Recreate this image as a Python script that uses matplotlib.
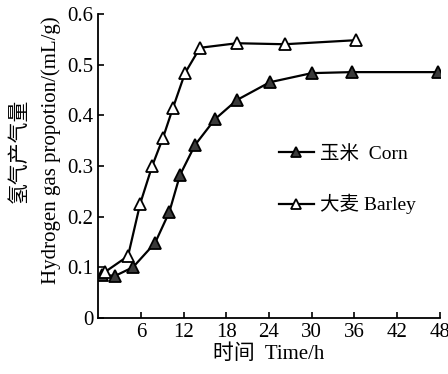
import matplotlib.pyplot as plt

plt.rcParams['font.family'] = ['Liberation Serif', 'Noto Sans CJK SC']

# dados
tempo_milho = [0.5, 2.4, 4.9, 8.0, 10.0, 11.5, 13.6, 16.4, 19.5, 24.1, 30.0, 35.6, 47.7]
h2_milho = [0.085, 0.083, 0.100, 0.148, 0.209, 0.282, 0.341, 0.392, 0.430, 0.465, 0.483, 0.485, 0.485]
tempo_cevada = [0.9, 4.2, 5.9, 7.6, 9.1, 10.5, 12.2, 14.3, 19.5, 26.2, 36.2]
h2_cevada = [0.090, 0.122, 0.225, 0.300, 0.355, 0.414, 0.483, 0.533, 0.542, 0.540, 0.548]

xticks = [6, 12, 18, 24, 30, 36, 42, 48]
yticks = [0, 0.1, 0.2, 0.3, 0.4, 0.5, 0.6]
ytick_labels = ['0', '0.1', '0.2', '0.3', '0.4', '0.5', '0.6']

fig = plt.figure(figsize=(4.48, 3.74), dpi=100)
ax = fig.add_axes([0.219, 0.150, 0.763, 0.813])

ax.plot(tempo_milho, h2_milho, '-^', color='black', lw=1.6, ms=8.5,
        mfc='#3a3a3a', mec='black', mew=1.3, label='玉米  Corn')
ax.plot(tempo_cevada, h2_cevada, '-^', color='black', lw=1.6, ms=8.5,
        mfc='white', mec='black', mew=1.3, label='大麦 Barley')

ax.set_xlim(0, 48)
ax.set_ylim(0, 0.6)
ax.set_xticks(xticks)
ax.set_yticks(yticks)
ax.set_yticklabels(ytick_labels)
ax.tick_params(direction='in', labelsize=15, width=1.2, length=4)
ax.spines['top'].set_visible(False)
ax.spines['right'].set_visible(False)
ax.spines['left'].set_linewidth(1.3)
ax.spines['bottom'].set_linewidth(1.3)

ax.set_xlabel('时间  Time/h', fontsize=15, labelpad=2)
ax.set_ylabel('氢气产气量\nHydrogen gas propotion/(mL/g)', fontsize=15, linespacing=1.75)
ax.yaxis.set_label_coords(-0.11, 0.55)

ax.legend(loc='upper left', bbox_to_anchor=(0.5, 0.6), frameon=False, fontsize=14,
          handlelength=1.8, labelspacing=1.6, handletextpad=0.3, borderpad=0,
          markerscale=0.8)

fig.savefig('out.png', dpi=100)
